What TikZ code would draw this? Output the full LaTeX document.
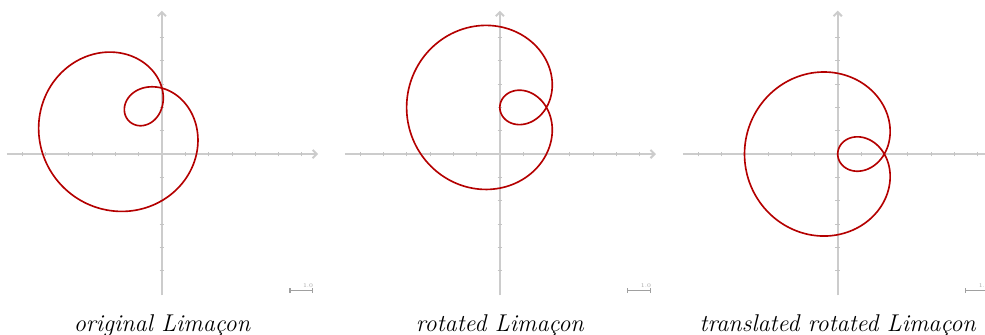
\documentclass[tikz,border=0pt]{standalone}
\usetikzlibrary{arrows.meta}
\definecolor{axisgray}{HTML}{CCCCCC}
\definecolor{tickgray}{HTML}{C4C4C4}
\definecolor{curvered}{HTML}{B40000}
\definecolor{bargray}{HTML}{A0A0A0}

\begin{document}
\begin{tikzpicture}[x=0.5cm,y=0.5cm,
 axis/.style={draw=axisgray,line width=1.2pt,-{Straight Barb[length=2.5pt,width=5pt]}},
 tick/.style={draw=tickgray,line width=0.4pt},
 limacon/.style={draw=curvered,line width=1pt,smooth,samples=241,domain=0:360,variable=\t},
 caption/.style={anchor=base,font=\fontsize{14.8}{17}\selectfont\itshape},
 scalebar/.style={draw=bargray,line width=1pt,{Bar[width=3pt]}-{Bar[width=3pt]}},
 scalelabel/.style={text=bargray,font=\fontsize{3.5}{4}\selectfont,inner sep=0pt}]
\useasboundingbox (-6.95,-7.73) rectangle (35.32,6.61);
% one panel each: shift, node point of the curve, direction of its loops, caption
\foreach \ox/\nx/\ny/\ang/\pname/\txt in {0/0/2.8284/225/orig/original Limaçon,
  14.5/2/2/180/rot/rotated Limaçon,
  29/2/0/180/trans/translated rotated Limaçon}{
 \begin{scope}[shift={(\ox,0)}]
  \draw[axis] (-6.65,0) -- (6.7,0);
  \draw[axis] (0,-6.07) -- (0,6.15);
  \foreach \i in {-6,...,-1,1,2,...,6} \draw[tick] (\i,-0.1) -- (\i,0.1);
  \foreach \i in {-5,...,-1,1,2,...,5} \draw[tick] (-0.1,\i) -- (0.1,\i);
  \draw[limacon] plot ({\nx+(2+4*cos(\t))*cos(\t+\ang)},{\ny+(2+4*cos(\t))*sin(\t+\ang)});
  \draw[scalebar] (5.45,-5.86) -- (6.5,-5.86);
  \node[scalelabel] (\pname-unit) at (6.27,-5.65) {1.0};
  \node[caption] (\pname-cap) at (0,-7.63) {\txt};
 \end{scope}
}
\end{tikzpicture}
\end{document}
